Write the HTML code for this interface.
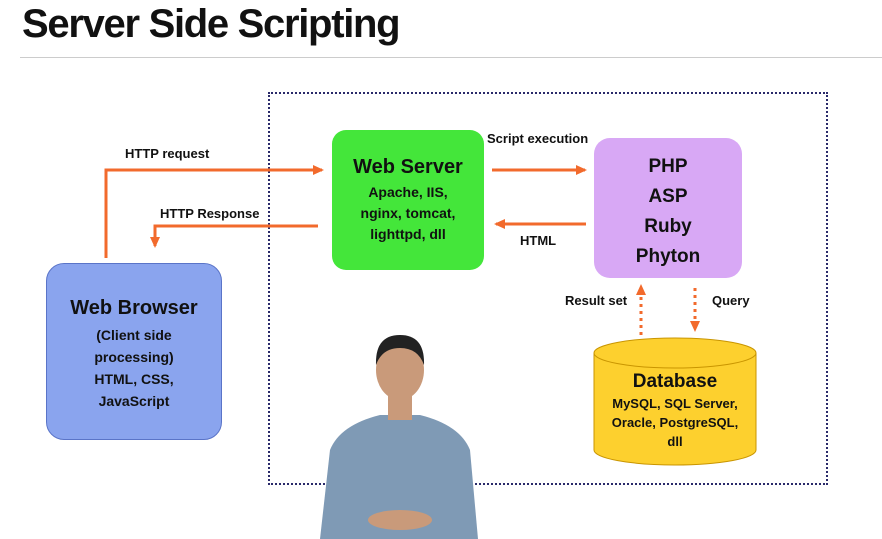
<!DOCTYPE html>
<html><head><meta charset="utf-8"><style>
body{margin:0;width:882px;height:539px;background:#fff;position:relative;overflow:hidden;font-family:"Liberation Sans",sans-serif;}
.t{position:absolute;font-weight:bold;color:#111;}
.box{position:absolute;box-sizing:border-box;text-align:center;font-weight:bold;color:#111;}
</style></head><body>
<div class="t" style="left:22px;top:2px;font-size:40px;letter-spacing:-1.3px;">Server Side Scripting</div>
<div style="position:absolute;left:20px;top:57px;width:862px;height:1px;background:#ccc"></div>
<div style="position:absolute;left:268px;top:92px;width:560px;height:393px;box-sizing:border-box;border:2px dotted #2a2a6a"></div>

<div class="box" style="left:332px;top:130px;width:152px;height:140px;background:#44e63a;border-radius:14px;padding-top:24px;font-size:14px;line-height:21px">
<div style="font-size:20px;line-height:26px;margin-bottom:2px">Web Server</div>Apache, IIS,<br>nginx, tomcat,<br>lighttpd, dll</div>

<div class="box" style="left:594px;top:138px;width:148px;height:140px;background:#d8a8f5;border-radius:16px;padding-top:14px;font-size:19px;line-height:30px">PHP<br>ASP<br>Ruby<br>Phyton</div>

<div class="box" style="left:46px;top:263px;width:176px;height:177px;background:#8aa4ee;border:1px solid #5a74c8;border-radius:18px;padding-top:30px;font-size:14px;line-height:22px">
<div style="font-size:20px;line-height:28px;margin-bottom:2px">Web Browser</div>(Client side<br>processing)<br>HTML, CSS,<br>JavaScript</div>

<svg width="882" height="539" style="position:absolute;left:0;top:0">
<defs><marker id="a" markerWidth="12" markerHeight="12" refX="9" refY="6" orient="auto" markerUnits="userSpaceOnUse"><path d="M0,1L11,6L0,11z" fill="#f26a2c"/></marker></defs>
<g stroke="#f26a2c" stroke-width="3" fill="none">
<path d="M106,258V170H322" marker-end="url(#a)"/>
<path d="M318,226H155V246" marker-end="url(#a)"/>
<path d="M492,170H585" marker-end="url(#a)"/>
<path d="M586,224H496" marker-end="url(#a)"/>
<path d="M641,335V286" stroke-dasharray="3,4" marker-end="url(#a)"/>
<path d="M695,288V330" stroke-dasharray="3,4" marker-end="url(#a)"/>
</g>
<path d="M594,353 V450 A81,15 0 0 0 756,450 V353" fill="#fdd02e" stroke="#c99500"/>
<ellipse cx="675" cy="353" rx="81" ry="15" fill="#fdd02e" stroke="#c99500"/>
<path d="M320,539 L330,450 Q340,425 380,415 L420,415 Q460,425 470,450 L478,539Z" fill="#7f9ab5"/>
<rect x="388" y="395" width="24" height="25" fill="#c99a7a"/>
<ellipse cx="400" cy="370" rx="24" ry="30" fill="#c99a7a"/>
<path d="M376,365 Q375,335 400,335 Q425,335 424,365 Q418,348 400,348 Q382,348 376,365Z" fill="#222"/>
<ellipse cx="400" cy="520" rx="32" ry="10" fill="#c99a7a"/>
</svg>
<div class="box" style="left:594px;top:370px;width:162px;font-size:13px;line-height:19px"><div style="font-size:19px;line-height:24px">Database</div>MySQL, SQL Server,<br>Oracle, PostgreSQL,<br>dll</div>

<div class="t" style="left:125px;top:146px;font-size:13px">HTTP request</div>
<div class="t" style="left:160px;top:206px;font-size:13px">HTTP Response</div>
<div class="t" style="left:487px;top:131px;font-size:13px">Script execution</div>
<div class="t" style="left:520px;top:233px;font-size:13px">HTML</div>
<div class="t" style="left:565px;top:293px;font-size:13px">Result set</div>
<div class="t" style="left:712px;top:293px;font-size:13px">Query</div>
</body></html>
